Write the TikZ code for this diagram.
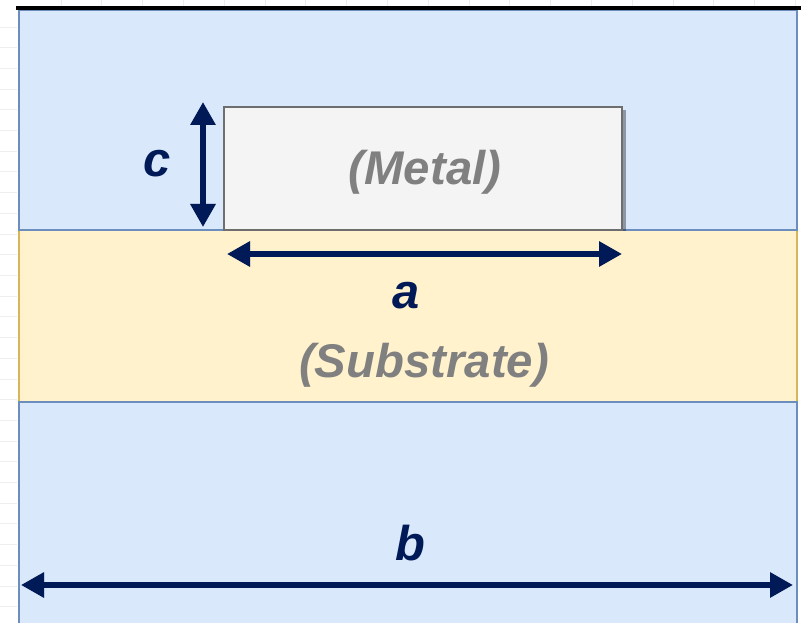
\documentclass[tikz,border=0pt]{standalone}
\usepackage{fontspec}
\setmainfont{Liberation Sans}
\usetikzlibrary{arrows.meta}
\definecolor{bluefill}{HTML}{DAE8FC}
\definecolor{blueline}{HTML}{6C8EBF}
\definecolor{yelfill}{HTML}{FFF2CC}
\definecolor{yelline}{HTML}{D6B656}
\definecolor{metalfill}{HTML}{F4F4F4}
\definecolor{metalline}{HTML}{6E6E6E}
\definecolor{navy}{RGB}{0,26,87}
\definecolor{txtgray}{HTML}{808080}
\definecolor{gridc}{HTML}{EEEEEE}
\tikzset{
  gridline/.style={draw=gridc, line width=0.8bp},
  bluelayer/.style={draw=blueline, fill=bluefill, line width=2.5bp},
  yellayer/.style={draw=yelline, fill=yelfill, line width=2.5bp},
  metalbox/.style={draw=metalline, fill=metalfill, line width=2.4bp, inner sep=0pt, outer sep=0pt},
  dimarrow/.style={draw=navy, line width=6.5bp, {Triangle[length=23bp,width=24bp]}-{Triangle[length=23bp,width=24bp]}},
  dimshadow/.style={draw=black, opacity=0.18, line width=6.5bp, {Triangle[length=23bp,width=24bp]}-{Triangle[length=23bp,width=24bp]}},
  graylabel/.style={text=txtgray, font=\fontsize{47.5}{52}\selectfont\bfseries\itshape, anchor=base, inner sep=0pt},
  dimlabel/.style={text=navy, font=\fontsize{49}{53}\selectfont\bfseries\itshape, anchor=base, inner sep=0pt},
}
\begin{document}
\begin{tikzpicture}[x=1bp,y=-1bp]
\useasboundingbox (0,0) rectangle (801,623);
\fill[white] (0,0) rectangle (801,623);
% faint spreadsheet grid in the margins
\foreach \k in {0,...,28} { \draw[gridline] (0,{27+20.7*\k}) -- (17,{27+20.7*\k}); }
\foreach \k in {0,...,18} { \draw[gridline] ({61+40.8*\k},0) -- ({61+40.8*\k},6); }
% layers
\begin{scope}
\clip (0,0) rectangle (801,623);
\draw[yellayer] (19,230) rectangle (797,402);
\draw[bluelayer] (19,10) rectangle (797,230);
\draw[bluelayer] (19,402) rectangle (797,630);
\end{scope}
% top black line
\draw[black, line width=4bp] (16,8) -- (801,8);
% metal
\fill[black, opacity=0.35] (227,110) rectangle (625.5,231);
\node[metalbox, minimum width=398bp, minimum height=123bp, anchor=north west] (metal) at (224,107) {};
\node[graylabel] (metaltxt) at (425,185) {(Metal)};
\node[graylabel] (subtxt) at (424,377) {(Substrate)};
% dimension arrows
\coordinate (c1) at (203,102); \coordinate (c2) at (203,227);
\coordinate (a1) at (227,254); \coordinate (a2) at (622,254);
\coordinate (b1) at (21,585); \coordinate (b2) at (793,585);
\begin{scope}[shift={(2,3)}]
\draw[dimshadow] (c1) -- (c2);
\draw[dimshadow] (a1) -- (a2);
\draw[dimshadow] (b1) -- (b2);
\end{scope}
\draw[dimarrow] (c1) -- (c2);
\draw[dimarrow] (a1) -- (a2);
\draw[dimarrow] (b1) -- (b2);
\node[dimlabel] (clab) at (157,177) {c};
\node[dimlabel] (alab) at (406,308) {a};
\node[dimlabel] (blab) at (410,560) {b};
\end{tikzpicture}
\end{document}
